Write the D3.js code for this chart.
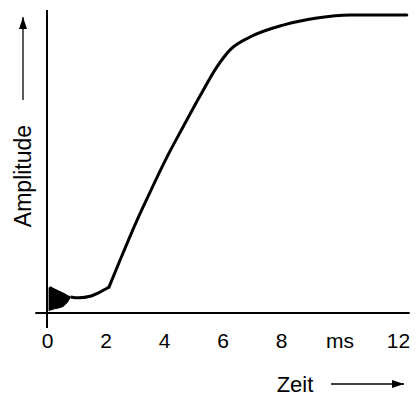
<!DOCTYPE html>
<html>
<head>
<meta charset="utf-8">
<script src="https://cdn.jsdelivr.net/npm/d3@7"></script>
<style>
  body { margin: 0; background: #fff; }
  text { font-family: "Liberation Sans", Arial, sans-serif; fill: #000; }
</style>
</head>
<body>
<div class="bigvis"></div>
<script>
var width = 420
var height = 396

// tick labels on the time axis (10 is shown as the unit)
var tickValues = [0, 2, 4, 6, 8, 10, 12]
var unitTick = 10
var unitLabel = "ms"

// oscillation at the start, drawn as its envelope (ms, amplitude 0..1)
var oscTime  = [0.07, 0.12, 0.25, 0.4, 0.55, 0.7, 0.8]
var oscUpper = [0.085, 0.088, 0.081, 0.074, 0.067, 0.059, 0.054]
var oscLower = [0.008, 0.010, 0.014, 0.017, 0.022, 0.036, 0.054]

// main response curve: slow part up to the kink, then the rise
var slowTime = [0.8, 1.1, 1.47, 1.81, 2.12]
var slowAmp  = [0.054, 0.051, 0.056, 0.070, 0.087]
var riseTime = [2.12, 2.5, 3.08, 3.52, 4.1, 4.65, 5.23, 5.81, 6.26, 6.94, 8.07, 9.23, 10.36, 12.3]
var riseAmp  = [0.087, 0.178, 0.312, 0.405, 0.523, 0.624, 0.728, 0.826, 0.883, 0.926, 0.966, 0.990, 1.0, 1.0]

var x = d3.scaleLinear().domain([0, 12]).range([47, 398])
var y = d3.scaleLinear().domain([0, 1]).range([313, 15])

var svg = d3.select(".bigvis").append("svg")
    .attr("width", width)
    .attr("height", height)

// axes lines
svg.append("line")
    .attr("x1", x(-0.4)).attr("x2", x(12.4))
    .attr("y1", y(0)).attr("y2", y(0))
    .attr("stroke", "#000").attr("stroke-width", 2)
svg.append("line")
    .attr("x1", x(0)).attr("x2", x(0))
    .attr("y1", y(-0.05)).attr("y2", y(1.017))
    .attr("stroke", "#000").attr("stroke-width", 2)

// tick labels, no tick marks
var xAxis = d3.axisBottom(x)
    .tickValues(tickValues)
    .tickSize(0)
    .tickPadding(20)
    .tickFormat(function(d){ return d == unitTick ? unitLabel : d })

var gx = svg.append("g")
    .attr("transform", "translate(0," + y(0) + ")")
    .call(xAxis)
gx.select(".domain").remove()
gx.selectAll("text")
    .style("font-size", "21px")
    .style("font-family", "'Liberation Sans', Arial, sans-serif")

// oscillation envelope
var oscData = oscTime.map(function(t, i){ return [t, oscUpper[i], oscLower[i]] })
var area = d3.area()
    .x(function(d){ return x(d[0]) })
    .y0(function(d){ return y(d[2]) })
    .y1(function(d){ return y(d[1]) })
svg.append("path")
    .datum(oscData)
    .attr("d", area)
    .attr("fill", "#000")
    .attr("stroke", "#000")
    .attr("stroke-width", 1)

// main curve
var slowData = slowTime.map(function(t, i){ return [t, slowAmp[i]] })
var riseData = riseTime.map(function(t, i){ return [t, riseAmp[i]] })
var line = d3.line()
    .x(function(d){ return x(d[0]) })
    .y(function(d){ return y(d[1]) })
    .curve(d3.curveMonotoneX)

svg.append("path")
    .datum(slowData)
    .attr("d", line)
    .attr("fill", "none")
    .attr("stroke", "#000")
    .attr("stroke-width", 3)
    .attr("stroke-linejoin", "round")
svg.append("path")
    .datum(riseData)
    .attr("d", line)
    .attr("fill", "none")
    .attr("stroke", "#000")
    .attr("stroke-width", 3)
    .attr("stroke-linejoin", "round")
    .attr("stroke-linecap", "round")

// arrowhead marker
var defs = svg.append("defs")
defs.append("marker")
    .attr("id", "arrow")
    .attr("viewBox", "0 0 12 8")
    .attr("refX", 12).attr("refY", 4)
    .attr("markerWidth", 12).attr("markerHeight", 8)
    .attr("markerUnits", "userSpaceOnUse")
    .attr("orient", "auto")
  .append("path")
    .attr("d", "M0,0L12,4L0,8z")
    .attr("fill", "#000")

// y label with arrow
svg.append("text")
    .attr("transform", "translate(31,176) rotate(-90)")
    .attr("text-anchor", "middle")
    .style("font-size", "23px")
    .text("Amplitude")
svg.append("line")
    .attr("x1", 23).attr("x2", 23)
    .attr("y1", 100).attr("y2", 17)
    .attr("stroke", "#000").attr("stroke-width", 1.3)
    .attr("marker-end", "url(#arrow)")

// x label with arrow
svg.append("text")
    .attr("x", 295).attr("y", 392)
    .attr("text-anchor", "middle")
    .style("font-size", "22px")
    .text("Zeit")
svg.append("line")
    .attr("x1", 331).attr("x2", 404)
    .attr("y1", 384).attr("y2", 384)
    .attr("stroke", "#000").attr("stroke-width", 1.3)
    .attr("marker-end", "url(#arrow)")
</script>
</body>
</html>
